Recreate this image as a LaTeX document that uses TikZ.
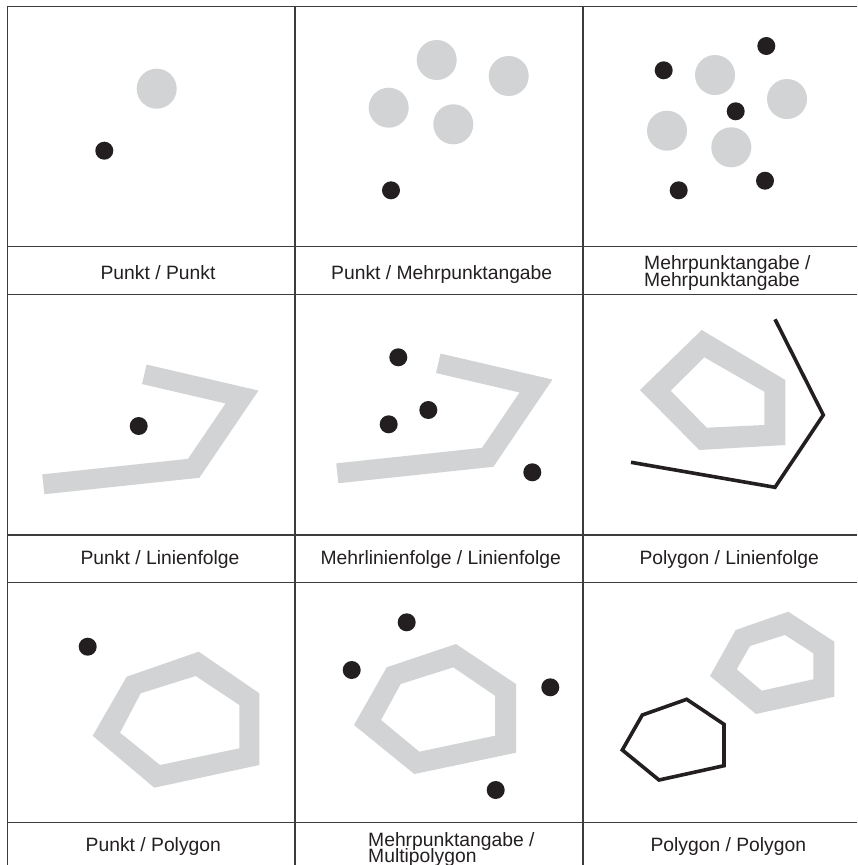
\documentclass[tikz,border=0pt]{standalone}
\usepackage{fontspec}
\setmainfont{Liberation Sans}
\definecolor{ringgray}{HTML}{D1D3D4}
\definecolor{ink}{HTML}{231F20}
\definecolor{gridc}{HTML}{3C3C3C}
\begin{document}
\begin{tikzpicture}[x=1pt,y=-1pt,
  gridline/.style={draw=gridc,line width=1.2pt},
  graydisc/.style={fill=ringgray},
  dot/.style={fill=ink},
  band/.style={draw=ringgray,line width=20pt,line join=miter,line cap=butt},
  ring/.style={fill=ringgray,even odd rule},
  blackline/.style={draw=ink,line width=3.6pt,line join=miter},
  lab/.style={font=\fontsize{19.3}{17}\selectfont,text=ink,inner sep=0pt,anchor=base},
  labl/.style={lab,anchor=base west}]
\useasboundingbox (0,0) rectangle (857,865);
\fill[white] (0,0) rectangle (857,865);

% grid
\draw[gridline] (7.3,6.7) -- (7.3,865);
\draw[gridline] (295,6.7) -- (295,865);
\draw[gridline] (583,6.7) -- (583,865);
\foreach \yy in {6.7,246.7,294.5,535,582.7,822.7}
  \draw[gridline] (7.3,\yy) -- (857,\yy);

% ---- row 1, cell 1
\fill[graydisc] (156.7,88.7) circle[radius=20pt];
\fill[dot] (104.3,150.7) circle[radius=9pt];
% ---- row 1, cell 2
\fill[graydisc] (436.7,60) circle[radius=20pt];
\fill[graydisc] (508.7,76) circle[radius=20pt];
\fill[graydisc] (388.7,107.7) circle[radius=20pt];
\fill[graydisc] (453.3,124.3) circle[radius=20pt];
\fill[dot] (391,190.3) circle[radius=9pt];
% ---- row 1, cell 3
\fill[graydisc] (715,75) circle[radius=20pt];
\fill[graydisc] (787,99) circle[radius=20pt];
\fill[graydisc] (667,130.7) circle[radius=20pt];
\fill[graydisc] (731.3,147.3) circle[radius=20pt];
\fill[dot] (766.3,46) circle[radius=9pt];
\fill[dot] (663.7,70.3) circle[radius=9pt];
\fill[dot] (735.7,111.3) circle[radius=9pt];
\fill[dot] (678.7,190.3) circle[radius=9pt];
\fill[dot] (765,180.7) circle[radius=9pt];

% ---- row 2, cell 1
\draw[band] (43.3,484.3) -- (193.7,468.3) -- (242,397) -- (144.3,374.3);
\fill[dot] (138.7,426) circle[radius=9pt];
% ---- row 2, cell 2
\draw[band] (337.3,473.3) -- (487.7,457.3) -- (536,386) -- (438.3,363.3);
\fill[dot] (398.3,357.3) circle[radius=9pt];
\fill[dot] (428.3,410) circle[radius=9pt];
\fill[dot] (388.7,424.3) circle[radius=9pt];
\fill[dot] (532.3,472.3) circle[radius=9pt];
% ---- row 2, cell 3
\fill[ring] (701.7,330) -- (785.3,380) -- (785.3,445) -- (699.3,450) -- (640,390) -- cycle
            (704.3,357.3) -- (764.3,391.7) -- (764.3,425) -- (706.7,427.7) -- (670.7,390.7) -- cycle;
\draw[blackline] (775,319.3) -- (823.3,415) -- (775,487.3) -- (631,462.3);

% ---- row 3, cell 1
\fill[ring] (126.7,676.7) -- (198.7,651.7) -- (259.3,693.3) -- (259.3,765) -- (154.3,787.7) -- (92.7,735.7) -- cycle
            (140.7,693.3) -- (195.7,676) -- (239.3,705) -- (239.3,748.3) -- (160,765) -- (120,732.7) -- cycle;
\fill[dot] (87.7,646.7) circle[radius=9pt];
% ---- row 3, cell 2
\fill[ring] (386.7,667.3) -- (456,644) -- (516,684) -- (516,752.7) -- (414.3,774) -- (354,725) -- cycle
            (400.7,684) -- (453.3,667.3) -- (495,695.7) -- (495,735.7) -- (419.3,751.7) -- (381,720) -- cycle;
\fill[dot] (406.7,622.3) circle[radius=9pt];
\fill[dot] (351.7,670) circle[radius=9pt];
\fill[dot] (550.3,687.3) circle[radius=9pt];
\fill[dot] (495.7,790) circle[radius=9pt];
% ---- row 3, cell 3
\fill[ring] (735.7,630) -- (788.3,611.7) -- (834.3,641.7) -- (834.3,696.7) -- (756,714) -- (710,676) -- cycle
            (750,646) -- (785,635) -- (813.3,653.3) -- (813.3,679.3) -- (761.7,690.7) -- (736.7,669.3) -- cycle;
\draw[blackline] (642.3,715) -- (686.7,699.3) -- (724,724.3) -- (724,765.7) -- (659,780) -- (622.3,750) -- cycle;

% labels
\node[lab] (l11) at (158,279.3) {Punkt / Punkt};
\node[lab] (l12) at (441.7,279.3) {Punkt / Mehrpunktangabe};
\node[labl] (l13a) at (644,269.3) {Mehrpunktangabe /};
\node[labl] (l13b) at (644,286) {Mehrpunktangabe};
\node[lab] (l21) at (160,564) {Punkt / Linienfolge};
\node[lab] (l22) at (440.8,564) {Mehrlinienfolge / Linienfolge};
\node[lab] (l23) at (729.2,564) {Polygon / Linienfolge};
\node[lab] (l31) at (153.3,851.7) {Punkt / Polygon};
\node[labl] (l32a) at (368,846) {Mehrpunktangabe /};
\node[labl] (l32b) at (368,862.7) {Multipolygon};
\node[lab] (l33) at (728.3,851.7) {Polygon / Polygon};
\end{tikzpicture}
\end{document}
